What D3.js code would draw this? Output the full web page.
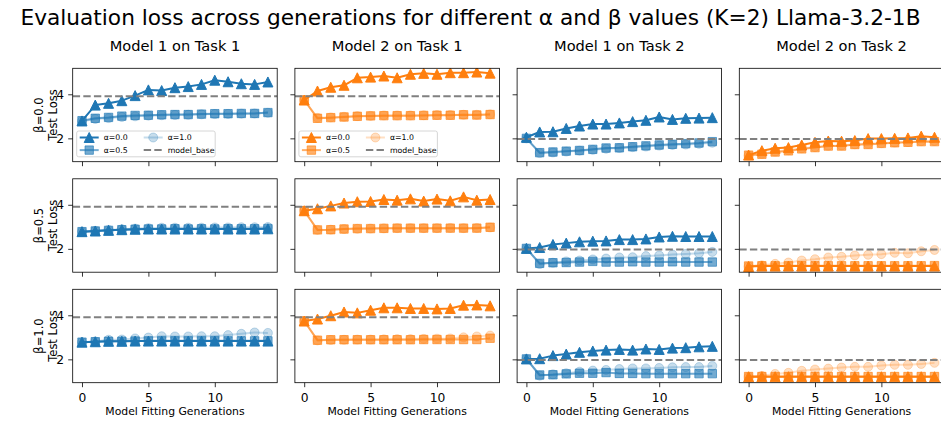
<!DOCTYPE html>
<html>
<head>
<meta charset="utf-8">
<script src="https://cdn.jsdelivr.net/npm/d3@7"></script>
<style>
  body { margin: 0; background: #fff; }
  svg { display: block; }
  text { font-family: "DejaVu Sans", sans-serif; fill: #000; }
</style>
</head>
<body>
<svg id="chart" width="941" height="425"></svg>
<script>
// ---- data -------------------------------------------------------------
const generations = [0, 1, 2, 3, 4, 5, 6, 7, 8, 9, 10, 11, 12, 13, 14];
const betaLabels = ["\u03b2=0.0", "\u03b2=0.5", "\u03b2=1.0"];
const alphaLabels = ["\u03b1=0.0", "\u03b1=0.5", "\u03b1=1.0"];
const panelTitles = ["Model 1 on Task 1", "Model 2 on Task 1", "Model 1 on Task 2", "Model 2 on Task 2"];
const panelModel = [1, 2, 1, 2];
const modelBase = [3.91, 3.91, 1.97, 1.97];
const xTicks = [0, 5, 10];
const yTicks = [2, 4];

// beta = 0.0
const b00_m1t1_a00 = [2.79, 3.51, 3.59, 3.71, 3.94, 4.20, 4.17, 4.30, 4.35, 4.45, 4.64, 4.57, 4.48, 4.45, 4.56];
const b00_m1t1_a05 = [2.80, 2.91, 2.95, 3.01, 3.04, 3.05, 3.07, 3.08, 3.08, 3.10, 3.12, 3.12, 3.13, 3.13, 3.17];
const b00_m1t1_a10 = [2.78, 2.88, 2.92, 2.97, 3.00, 3.03, 3.05, 3.06, 3.07, 3.09, 3.10, 3.11, 3.12, 3.13, 3.16];
const b00_m2t1_a00 = [3.74, 4.15, 4.32, 4.41, 4.75, 4.78, 4.83, 4.75, 4.91, 4.95, 4.91, 4.98, 4.98, 5.01, 4.96];
const b00_m2t1_a05 = [3.74, 2.91, 2.94, 2.97, 3.00, 3.02, 3.03, 3.03, 3.03, 3.04, 3.05, 3.05, 3.07, 3.06, 3.08];
const b00_m2t1_a10 = [3.74, 2.93, 2.95, 2.98, 3.01, 3.02, 3.04, 3.04, 3.04, 3.05, 3.06, 3.06, 3.07, 3.07, 3.09];
const b00_m1t2_a00 = [2.05, 2.29, 2.30, 2.45, 2.56, 2.65, 2.65, 2.70, 2.76, 2.82, 2.97, 2.86, 2.91, 2.92, 2.94];
const b00_m1t2_a05 = [2.00, 1.35, 1.38, 1.42, 1.45, 1.50, 1.56, 1.57, 1.62, 1.66, 1.70, 1.73, 1.76, 1.79, 1.85];
const b00_m1t2_a10 = [2.00, 1.33, 1.36, 1.40, 1.44, 1.48, 1.53, 1.56, 1.60, 1.63, 1.67, 1.70, 1.72, 1.75, 1.80];
const b00_m2t2_a00 = [1.24, 1.44, 1.55, 1.58, 1.70, 1.82, 1.88, 1.87, 1.90, 1.99, 1.99, 2.00, 2.02, 2.10, 2.05];
const b00_m2t2_a05 = [1.24, 1.28, 1.38, 1.43, 1.52, 1.58, 1.65, 1.65, 1.72, 1.72, 1.77, 1.80, 1.82, 1.85, 1.85];
const b00_m2t2_a10 = [1.22, 1.30, 1.40, 1.46, 1.55, 1.60, 1.66, 1.68, 1.73, 1.75, 1.78, 1.81, 1.83, 1.87, 1.88];

// beta = 0.5
const b05_m1t1_a00 = [2.78, 2.81, 2.84, 2.87, 2.89, 2.90, 2.90, 2.90, 2.90, 2.90, 2.90, 2.90, 2.90, 2.90, 2.91];
const b05_m1t1_a05 = [2.78, 2.81, 2.84, 2.87, 2.89, 2.90, 2.90, 2.91, 2.90, 2.91, 2.90, 2.91, 2.91, 2.91, 2.92];
const b05_m1t1_a10 = [2.78, 2.82, 2.86, 2.89, 2.92, 2.94, 2.96, 2.96, 2.96, 2.96, 2.97, 2.97, 2.98, 2.98, 2.99];
const b05_m2t1_a00 = [3.73, 3.82, 3.95, 4.08, 4.14, 4.15, 4.24, 4.21, 4.27, 4.17, 4.26, 4.18, 4.36, 4.21, 4.24];
const b05_m2t1_a05 = [3.73, 2.86, 2.87, 2.90, 2.92, 2.92, 2.93, 2.94, 2.94, 2.94, 2.94, 2.94, 2.94, 2.94, 2.98];
const b05_m2t1_a10 = [3.73, 2.86, 2.87, 2.90, 2.91, 2.92, 2.93, 2.94, 2.94, 2.94, 2.94, 2.95, 2.94, 2.95, 2.97];
const b05_m1t2_a00 = [2.02, 2.06, 2.20, 2.26, 2.32, 2.35, 2.36, 2.42, 2.42, 2.45, 2.54, 2.57, 2.56, 2.56, 2.56];
const b05_m1t2_a05 = [2.02, 1.34, 1.37, 1.38, 1.40, 1.43, 1.40, 1.40, 1.41, 1.40, 1.40, 1.41, 1.40, 1.40, 1.40];
const b05_m1t2_a10 = [2.02, 1.31, 1.37, 1.43, 1.47, 1.52, 1.56, 1.61, 1.62, 1.67, 1.70, 1.74, 1.77, 1.80, 1.86];
const b05_m2t2_a00 = [1.20, 1.22, 1.22, 1.22, 1.22, 1.22, 1.22, 1.22, 1.22, 1.22, 1.22, 1.22, 1.22, 1.22, 1.22];
const b05_m2t2_a05 = [1.22, 1.23, 1.23, 1.23, 1.23, 1.23, 1.23, 1.23, 1.23, 1.23, 1.23, 1.23, 1.23, 1.23, 1.24];
const b05_m2t2_a10 = [1.20, 1.25, 1.32, 1.38, 1.47, 1.53, 1.61, 1.64, 1.70, 1.73, 1.76, 1.82, 1.80, 1.89, 1.95];

// beta = 1.0
const b10_m1t1_a00 = [2.78, 2.80, 2.82, 2.82, 2.83, 2.83, 2.83, 2.83, 2.83, 2.83, 2.83, 2.83, 2.83, 2.83, 2.83];
const b10_m1t1_a05 = [2.78, 2.80, 2.82, 2.82, 2.83, 2.84, 2.84, 2.84, 2.84, 2.84, 2.84, 2.84, 2.84, 2.84, 2.84];
const b10_m1t1_a10 = [2.78, 2.81, 2.89, 2.90, 2.95, 2.99, 3.05, 3.04, 3.04, 3.05, 3.05, 3.10, 3.16, 3.22, 3.20];
const b10_m2t1_a00 = [3.74, 3.83, 3.98, 4.15, 4.11, 4.23, 4.34, 4.34, 4.31, 4.31, 4.29, 4.31, 4.46, 4.47, 4.43];
const b10_m2t1_a05 = [3.74, 2.87, 2.89, 2.89, 2.89, 2.89, 2.89, 2.89, 2.89, 2.90, 2.90, 2.90, 2.90, 2.90, 2.96];
const b10_m2t1_a10 = [3.74, 2.86, 2.88, 2.89, 2.90, 2.90, 2.91, 2.92, 2.92, 2.93, 2.94, 2.95, 3.00, 3.04, 3.08];
const b10_m1t2_a00 = [2.02, 2.03, 2.17, 2.24, 2.32, 2.38, 2.42, 2.45, 2.42, 2.47, 2.45, 2.51, 2.53, 2.57, 2.59];
const b10_m1t2_a05 = [2.02, 1.29, 1.30, 1.34, 1.37, 1.37, 1.40, 1.36, 1.36, 1.35, 1.35, 1.35, 1.35, 1.35, 1.35];
const b10_m1t2_a10 = [2.02, 1.26, 1.32, 1.37, 1.44, 1.49, 1.52, 1.56, 1.59, 1.59, 1.61, 1.64, 1.65, 1.65, 1.70];
const b10_m2t2_a00 = [1.21, 1.21, 1.21, 1.21, 1.21, 1.21, 1.21, 1.21, 1.21, 1.21, 1.21, 1.21, 1.21, 1.21, 1.21];
const b10_m2t2_a05 = [1.22, 1.22, 1.22, 1.22, 1.22, 1.22, 1.22, 1.22, 1.22, 1.22, 1.22, 1.22, 1.22, 1.22, 1.22];
const b10_m2t2_a10 = [1.20, 1.25, 1.34, 1.39, 1.48, 1.54, 1.58, 1.63, 1.66, 1.66, 1.72, 1.75, 1.75, 1.79, 1.84];

// rows = beta, columns = model/task panels, entries = [alpha 0.0, 0.5, 1.0]
const grid = [
  [[b00_m1t1_a00, b00_m1t1_a05, b00_m1t1_a10], [b00_m2t1_a00, b00_m2t1_a05, b00_m2t1_a10],
   [b00_m1t2_a00, b00_m1t2_a05, b00_m1t2_a10], [b00_m2t2_a00, b00_m2t2_a05, b00_m2t2_a10]],
  [[b05_m1t1_a00, b05_m1t1_a05, b05_m1t1_a10], [b05_m2t1_a00, b05_m2t1_a05, b05_m2t1_a10],
   [b05_m1t2_a00, b05_m1t2_a05, b05_m1t2_a10], [b05_m2t2_a00, b05_m2t2_a05, b05_m2t2_a10]],
  [[b10_m1t1_a00, b10_m1t1_a05, b10_m1t1_a10], [b10_m2t1_a00, b10_m2t1_a05, b10_m2t1_a10],
   [b10_m1t2_a00, b10_m1t2_a05, b10_m1t2_a10], [b10_m2t2_a00, b10_m2t2_a05, b10_m2t2_a10]]
];

// ---- styling / layout --------------------------------------------------
const modelColor = { 1: "#1f77b4", 2: "#ff7f0e" };
const alphaOpacity = [1, 0.62, 0.25];
const markerKind = ["triangle", "square", "circle"];
const panelW = 204.5, panelH = 93.4;
const colLeft = c => 72.7 + c * 222.2;
const rowTop = [68.3, 178.8, 289.3];

const svg = d3.select("#chart");

const x = d3.scaleLinear().domain([-0.7, 14.7]).range([0, panelW]);
const y = d3.scaleLinear().domain([0.94, 5.18]).range([panelH, 0]);

const lineGen = d3.line().x((d, i) => x(generations[i])).y(d => y(d));

function markerPath(kind) {
  if (kind === "triangle") return "M0,-5L5,5L-5,5Z";
  if (kind === "square") return "M-4.2,-4.2H4.2V4.2H-4.2Z";
  return d3.symbol(d3.symbolCircle, Math.PI * 4.5 * 4.5)();
}

function drawSeries(g, values, color, op, kind) {
  g.append("path")
    .attr("d", lineGen(values))
    .attr("fill", "none")
    .attr("stroke", color)
    .attr("stroke-opacity", op)
    .attr("stroke-width", 2)
    .attr("stroke-linejoin", "round");
  g.selectAll(null).data(values).enter().append("path")
    .attr("d", markerPath(kind))
    .attr("transform", (d, i) => `translate(${x(generations[i])},${y(d)})`)
    .attr("fill", color)
    .attr("fill-opacity", op)
    .attr("stroke", color)
    .attr("stroke-opacity", op)
    .attr("stroke-width", 1);
}

// figure title
svg.append("text")
  .attr("x", 470.5).attr("y", 24.5)
  .attr("text-anchor", "middle")
  .style("font-size", "21.7px")
  .text("Evaluation loss across generations for different \u03b1 and \u03b2 values (K=2) Llama-3.2-1B");

grid.forEach((row, r) => {
  row.forEach((series, c) => {
    const g = svg.append("g").attr("transform", `translate(${colLeft(c)},${rowTop[r]})`);
    const color = modelColor[panelModel[c]];
    const clipId = `clip-${r}-${c}`;
    g.append("clipPath").attr("id", clipId)
      .append("rect").attr("width", panelW).attr("height", panelH);
    const plot = g.append("g").attr("clip-path", `url(#${clipId})`);

    series.forEach((vals, a) => drawSeries(plot, vals, color, alphaOpacity[a], markerKind[a]));

    // baseline model loss
    plot.append("line")
      .attr("x1", 0).attr("x2", panelW)
      .attr("y1", y(modelBase[c])).attr("y2", y(modelBase[c]))
      .attr("stroke", "#808080")
      .attr("stroke-width", 2)
      .attr("stroke-dasharray", "7.4,3.2");

    // axes
    const xAxis = d3.axisBottom(x).tickValues(xTicks).tickSize(4.5).tickPadding(6).tickSizeOuter(0);
    xAxis.tickFormat(r < 2 ? () => "" : d3.format("d"));
    const gx = g.append("g").attr("transform", `translate(0,${panelH})`).call(xAxis);
    const yAxis = d3.axisLeft(y).tickValues(yTicks).tickSize(4.5).tickPadding(4).tickSizeOuter(0);
    yAxis.tickFormat(c > 0 ? () => "" : d3.format("d"));
    const gy = g.append("g").call(yAxis);
    [gx, gy].forEach(ax => {
      ax.select(".domain").remove();
      ax.selectAll(".tick line").attr("stroke", "#000").attr("stroke-width", 0.8);
      ax.selectAll(".tick text").style("font-size", "12.3px").style("font-family", "DejaVu Sans");
    });

    // frame
    g.append("rect")
      .attr("width", panelW).attr("height", panelH)
      .attr("fill", "none").attr("stroke", "#000").attr("stroke-width", 0.8);

    if (r === 0) {
      g.append("text")
        .attr("x", panelW / 2).attr("y", -17.8)
        .attr("text-anchor", "middle")
        .style("font-size", "14.6px")
        .text(panelTitles[c]);
    }
    if (r === 2) {
      g.append("text")
        .attr("x", panelW / 2).attr("y", panelH + 32.5)
        .attr("text-anchor", "middle")
        .style("font-size", "10.85px")
        .text("Model Fitting Generations");
    }
    if (c === 0) {
      g.append("text")
        .attr("transform", `translate(-15.5,${panelH / 2}) rotate(-90)`)
        .attr("text-anchor", "middle")
        .style("font-size", "11.5px")
        .text("Test Loss");
      g.append("text")
        .attr("transform", `translate(-29.5,${panelH / 2}) rotate(-90)`)
        .attr("text-anchor", "middle")
        .style("font-size", "11.5px")
        .text(betaLabels[r]);
    }

    // legend in the top-row Task 1 panels
    if (r === 0 && c < 2) {
      const lg = g.append("g").attr("transform", "translate(4,62.7)");
      lg.append("rect")
        .attr("width", 138.5).attr("height", 25.8).attr("rx", 2)
        .attr("fill", "#fff").attr("fill-opacity", 0.8)
        .attr("stroke", "#cccccc").attr("stroke-width", 0.8);
      const entries = [
        { col: 0, row: 0, label: alphaLabels[0], a: 0 },
        { col: 1, row: 0, label: alphaLabels[2], a: 2 },
        { col: 0, row: 1, label: alphaLabels[1], a: 1 },
        { col: 1, row: 1, label: "model_base", a: -1 }
      ];
      entries.forEach(e => {
        const hx = 3 + e.col * 64, hy = 6.5 + e.row * 12.6;
        const eg = lg.append("g").attr("transform", `translate(${hx},${hy})`);
        if (e.a >= 0) {
          eg.append("line").attr("x1", 0).attr("x2", 19).attr("y1", 0).attr("y2", 0)
            .attr("stroke", color).attr("stroke-opacity", alphaOpacity[e.a]).attr("stroke-width", 2);
          eg.append("path").attr("d", markerPath(markerKind[e.a]))
            .attr("transform", "translate(9.5,0)")
            .attr("fill", color).attr("fill-opacity", alphaOpacity[e.a])
            .attr("stroke", color).attr("stroke-opacity", alphaOpacity[e.a]);
        } else {
          eg.append("line").attr("x1", 0).attr("x2", 19).attr("y1", 0).attr("y2", 0)
            .attr("stroke", "#808080").attr("stroke-width", 2).attr("stroke-dasharray", "7.4,3.2");
        }
        eg.append("text").attr("x", 24).attr("y", 2.8)
          .style("font-size", "7.8px")
          .text(e.label);
      });
    }
  });
});
</script>
</body>
</html>
